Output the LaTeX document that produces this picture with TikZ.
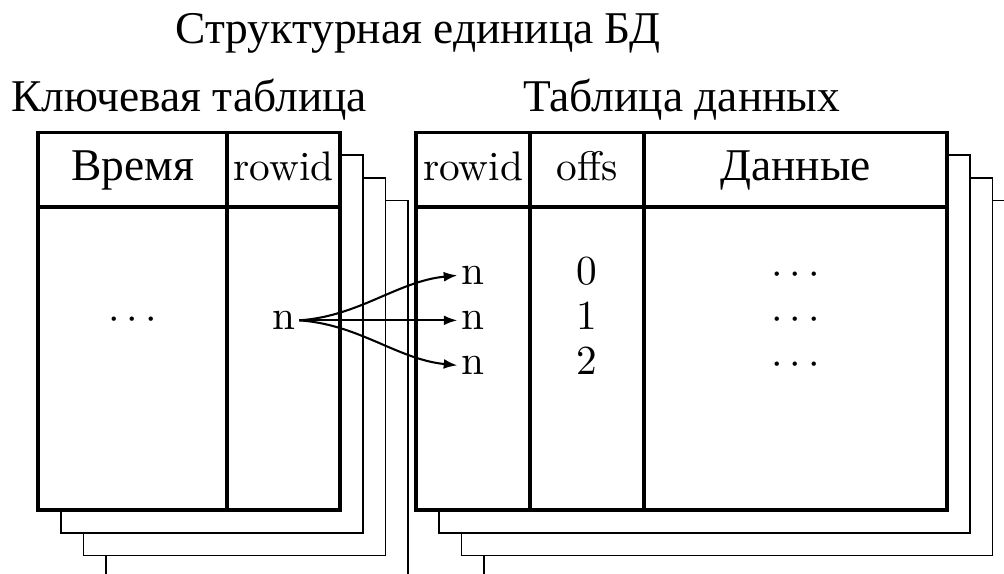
\documentclass[tikz,border=0pt]{standalone}
\usepackage{fontspec}
\newfontfamily\cyr{Liberation Serif}[Scale=1.1]
\usetikzlibrary{arrows.meta}
\begin{document}
\begin{tikzpicture}[x=0.2421pt,y=-0.2421pt,
  front/.style={draw, line width=0.8pt, fill=white},
  layer/.style={draw, line width=0.4pt, fill=white},
  rule/.style={line width=0.8pt},
  lbl/.style={anchor=base, inner sep=0pt},
  ctxt/.style={anchor=base, inner sep=0pt, font=\cyr},
  cell/.style={anchor=base, inner sep=0.8pt},
  link/.style={line width=0.5pt, -{Latex[length=3.3pt,width=2.4pt]}}]
\useasboundingbox (0,0) rectangle (1004,574);
\clip (0,0) rectangle (1004,574);
\def\dd{22.7}
% left table stack
\foreach \k in {3,2,1}{
  \path[layer] ({38+\k*\dd},{132.5+\k*\dd}) rectangle ({340+\k*\dd},{510+\k*\dd});
}
\path[front] (38,132.5) rectangle (340,510);
\draw[rule] (38,207) -- (340,207);
\draw[rule] (227,132.5) -- (227,510);
% right table stack
\foreach \k in {3,2,1}{
  \path[layer] ({416+\k*\dd},{132.5+\k*\dd}) rectangle ({947+\k*\dd},{510+\k*\dd});
}
\path[front] (416,132.5) rectangle (947,510);
\draw[rule] (416,207) -- (947,207);
\draw[rule] (530,132.5) -- (530,510);
\draw[rule] (644,132.5) -- (644,510);
% titles
\node[ctxt] (title) at (418,44) {Структурная единица БД};
\node[ctxt] (kt) at (189,112) {Ключевая таблица};
\node[ctxt] (td) at (681.5,112) {Таблица данных};
% headers
\node[ctxt] (h1) at (132.5,180.5) {Время};
\node[lbl] (h2) at (283.5,180.5) {rowid};
\node[lbl] (h3) at (473,180.5) {rowid};
\node[lbl] (h4) at (587,180.5) {offs};
\node[ctxt] (h5) at (795.5,180.5) {Данные};
% left body
\node[lbl] (kdots) at (132.5,329.5) {$\cdots$};
\node[cell] (nk) at (283.5,329.5) {n};
% right body
\node[cell] (n0) at (473,284.5) {n};
\node[cell] (n1) at (473,329.5) {n};
\node[cell] (n2) at (473,374.5) {n};
\node[lbl] (o0) at (587,284.5) {0};
\node[lbl] (o1) at (587,329.5) {1};
\node[lbl] (o2) at (587,374.5) {2};
\node[lbl] (d0) at (795.5,284.5) {$\cdots$};
\node[lbl] (d1) at (795.5,329.5) {$\cdots$};
\node[lbl] (d2) at (795.5,374.5) {$\cdots$};
% links
\draw[link] (nk.east) .. controls +(60,-4) and +(-60,6) .. (n0.west);
\draw[link] (nk.east) -- (n1.west);
\draw[link] (nk.east) .. controls +(60,4) and +(-60,-6) .. (n2.west);
\end{tikzpicture}
\end{document}
